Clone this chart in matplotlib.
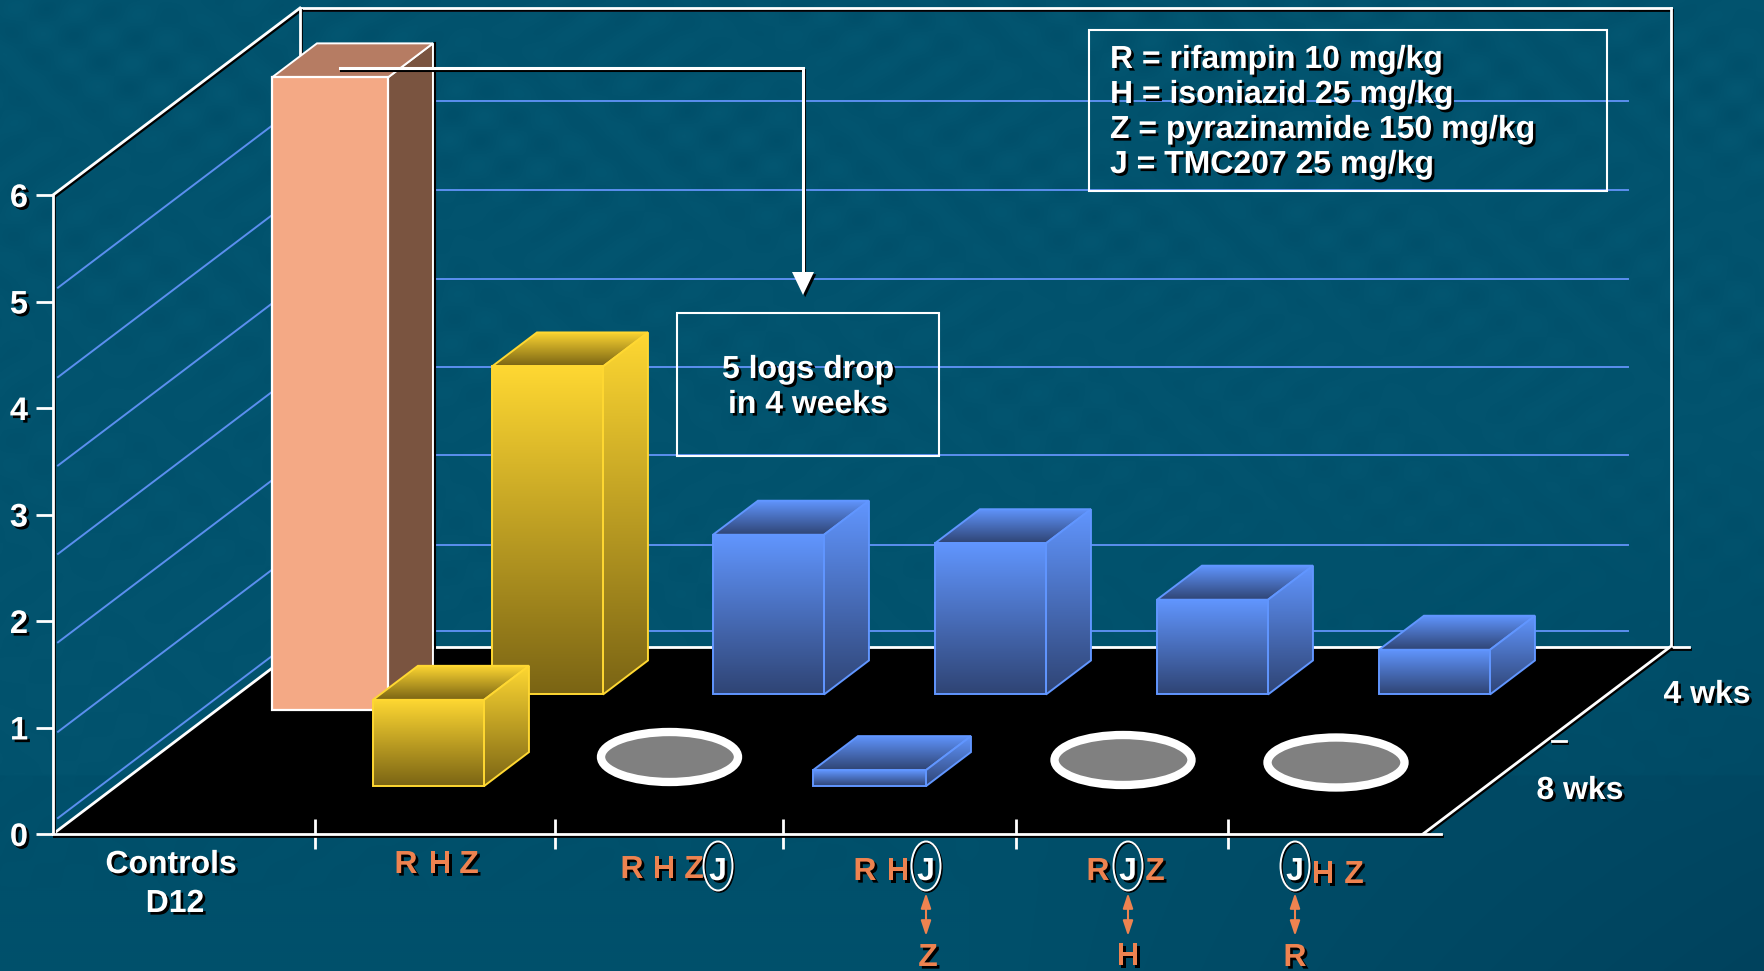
import numpy as np
import matplotlib
matplotlib.use("Agg")
import matplotlib.pyplot as plt
import matplotlib.patheffects as pe
from matplotlib.patches import Polygon, Ellipse, Rectangle, FancyArrowPatch
from matplotlib.transforms import Affine2D

plt.rcParams["font.family"] = ["Liberation Sans", "DejaVu Sans"]
plt.rcParams["font.weight"] = "bold"

# log10 CFU per regimen, read at 4 and 8 weeks (None = no bar, 0 = culture negative)
categories = ["Controls D12", "RHZ", "RHZJ", "RHJ", "RJZ", "JHZ"]
values_4wks = [5.94, 3.08, 1.50, 1.42, 0.89, 0.42]
values_8wks = [None, 0.81, 0, 0.15, 0, 0]
grid_values = [0.15, 0.96, 1.80, 2.63, 3.46, 4.29, 5.13]
y_ticks = [0, 1, 2, 3, 4, 5, 6]

legend_lines = ["R = rifampin 10 mg/kg", "H = isoniazid 25 mg/kg",
                "Z = pyrazinamide 150 mg/kg", "J = TMC207 25 mg/kg"]
note_lines = ["5 logs drop", "in 4 weeks"]
row_labels = ["4 wks", "8 wks"]

# letters under each group: (letter, x centre), the circled J is handled apart
group_letters = [
    ([("R", 406), ("H", 440), ("Z", 469)], 873),
    ([("R", 632), ("H", 664), ("Z", 694)], 878),
    ([("R", 865), ("H", 898)], 880),
    ([("R", 1098), ("Z", 1155)], 880),
    ([("H", 1323), ("Z", 1354)], 883),
]
circled_j = [(718, 866), (926, 866), (1128, 866), (1295, 866)]
removed_drug = [("Z", 928, 966), ("H", 1128, 965), ("R", 1295, 966)]

# layout, in pixels
W, H = 1764, 971
UNIT = 106.5
Y0 = 834
FLOOR_DX, FLOOR_DY = 247, 187 / UNIT
BAR_W = 111
BAR_DEPTH = 0.182
BACK_X = [272, 492, 713, 935, 1157, 1379]
BACK_DEPTH = [0.663, 0.746, 0.746, 0.746, 0.746, 0.746]
FRONT_X = [None, 373, None, 813, None, None]
FRONT_DEPTH = 0.256
OVAL_CENTRE = [None, None, (669.5, 757), None, (1123, 760), (1336, 762.5)]
GROUP_EDGES = [315, 555, 783, 1016, 1228]

BG = (0, 80, 107)
WHITE = "white"
GRID = "#5B8FEF"
ORANGE = "#EE8350"
YELLOW = ("#FFD832", "#7A6414")
BLUE = ("#6196FF", "#2F4474")

LINE_SHADOW = [pe.SimpleLineShadow(offset=(1, -1.3), shadow_color="black", alpha=1), pe.Normal()]
TEXT_SHADOW = [pe.withSimplePatchShadow(offset=(1.9, -1.9), shadow_rgbFace="black", alpha=1)]


def project(x, value, depth=0.0):
    # oblique projection: going back in depth moves right and up
    return x + depth * FLOOR_DX, value + depth * FLOOR_DY


def background(ax):
    xx, yy = np.meshgrid(np.linspace(0, 1, 882), np.linspace(0, 1, 486))
    mottle = (np.sin(xx * 190) * np.sin(yy * 120)
              + np.sin((xx + yy) * 147) * 0.6
              + np.sin((xx * 2 - yy) * 91) * 0.5)
    mottle = mottle * np.clip(1.1 - yy * 1.2, 0, 1)
    dark = np.clip((xx - 0.55) * 2.2, 0, 1) * np.clip((yy - 0.45) * 1.8, 0, 1)
    img = np.zeros(xx.shape + (3,))
    for i, amp in enumerate((0.4, 1.0, 1.0)):
        img[..., i] = BG[i] + mottle * 1.8 * amp - dark * 14 * amp
    img = np.clip(img + np.array([2, 3, 3]) * (yy < 0.8)[..., None], 0, 255) / 255
    ylim = ax.get_ylim()
    ax.imshow(img, extent=[0, W, ylim[0], ylim[1]], origin="upper", aspect="auto",
              interpolation="bilinear", zorder=0)


def gradient_face(ax, verts, top, bottom, zorder, edge=None):
    verts = np.array(verts)
    rgb_top = np.array(matplotlib.colors.to_rgb(top))
    rgb_bot = np.array(matplotlib.colors.to_rgb(bottom))
    t = np.linspace(0, 1, 256)[:, None, None]
    img = rgb_top[None, None, :] * (1 - t) + rgb_bot[None, None, :] * t
    extent = [verts[:, 0].min(), verts[:, 0].max(), verts[:, 1].min(), verts[:, 1].max()]
    im = ax.imshow(img, extent=extent, origin="upper", aspect="auto", zorder=zorder)
    im.set_clip_path(Polygon(verts, closed=True, transform=ax.transData))
    ax.add_patch(Polygon(verts, closed=True, fill=False, edgecolor=edge or top, linewidth=1.4, zorder=zorder + 0.01))


def bar_faces(x, width, value, depth):
    # x is where the front face starts on the page, whatever the row depth is
    x = x - depth * FLOOR_DX
    front = [project(x, value, depth), project(x + width, value, depth),
             project(x + width, 0, depth), project(x, 0, depth)]
    side = [project(x + width, value, depth), project(x + width, value, depth + BAR_DEPTH),
            project(x + width, 0, depth + BAR_DEPTH), project(x + width, 0, depth)]
    top = [project(x, value, depth), project(x, value, depth + BAR_DEPTH),
           project(x + width, value, depth + BAR_DEPTH), project(x + width, value, depth)]
    return front, side, top


def gradient_bar(ax, x, width, value, depth, colors, zorder):
    front, side, top = bar_faces(x, width, value, depth)
    gradient_face(ax, top, colors[0], colors[1], zorder)
    gradient_face(ax, side, colors[0], colors[1], zorder + 0.1, edge=colors[0])
    gradient_face(ax, front, colors[0], colors[1], zorder + 0.2, edge=colors[0])


def control_bar(ax, x, width, value, depth, zorder):
    front, side, top = bar_faces(x, width, value, depth)
    # thin black line along the right side of the bar
    ax.plot([p[0] + 2 for p in side[1:3]], [p[1] for p in side[1:3]], color="black", lw=1.5, zorder=zorder)
    ax.add_patch(Polygon(side, closed=True, facecolor="#7A5440", edgecolor=WHITE, lw=1.4, zorder=zorder))
    ax.add_patch(Polygon(top, closed=True, facecolor="#B67C63", edgecolor=WHITE, lw=1.4, zorder=zorder))
    ax.add_patch(Polygon(front, closed=True, facecolor="#F4A985", edgecolor=WHITE, lw=1.6, zorder=zorder + 0.1))


def draw_walls(ax):
    for v in grid_values:
        xs, ys = zip(project(58, v), project(58, v, 1))
        ax.plot(xs, ys, color=GRID, lw=1.4, zorder=1)
        xs, ys = zip(project(58, v, 1), project(1381, v, 1))
        ax.plot(xs, ys, color=GRID, lw=1.4, zorder=1)
    # last line sits right under the top edge of the back wall
    xs, ys = zip(project(58, 5.97, 1), project(1381, 5.97, 1))
    ax.plot(xs, ys, color=GRID, lw=1.4, zorder=1)

    ax.add_patch(Polygon([project(53, 0), project(1423, 0), project(1423, 0, 1), project(53, 0, 1)],
                         closed=True, facecolor="black", edgecolor="none", zorder=1.2))

    for a, b in [(project(53, 6), project(53, 6, 1)),
                 (project(53, 6, 1), project(1424, 6, 1)),
                 (project(53, 6, 1), project(53, 0, 1)),
                 (project(1424, 6, 1), project(1424, 0, 1)),
                 (project(53, 0, 1), project(1442, 0, 1)),
                 (project(53, 0), project(53, 0, 1)),
                 (project(1423, 0), project(1423, 0, 1)),
                 (project(1429, 0, 0.497), project(1443, 0, 0.497))]:
        line, = ax.plot([a[0], b[0]], [a[1], b[1]], color=WHITE, lw=2, zorder=1.5, solid_capstyle="projecting")
        line.set_path_effects(LINE_SHADOW)


def draw_axes(ax):
    for name in ("top", "right"):
        ax.spines[name].set_visible(False)
    left, bottom = ax.spines["left"], ax.spines["bottom"]
    left.set_position(("data", 53))
    left.set_bounds(0, 6)
    bottom.set_position(("data", 0))
    bottom.set_bounds(53, 1441)
    for spine in (left, bottom):
        spine.set_color(WHITE)
        spine.set_linewidth(2)
        spine.set_path_effects(LINE_SHADOW)
    ax.set_yticks(y_ticks)
    ax.set_xticks(GROUP_EDGES, labels=[""] * len(GROUP_EDGES))
    ax.tick_params(axis="y", direction="out", length=12, width=2, color=WHITE, pad=6,
                   labelcolor=WHITE, labelsize=23.5)
    ax.tick_params(axis="x", direction="inout", length=21, width=2, color=WHITE)
    for label in ax.get_yticklabels():
        label.set_fontweight("bold")
        label.set_path_effects(TEXT_SHADOW)


def draw_bars(ax):
    control_bar(ax, BACK_X[0], 116, values_4wks[0], BACK_DEPTH[0], 3)
    for i in range(1, len(categories)):
        colors = YELLOW if i == 1 else BLUE
        gradient_bar(ax, BACK_X[i], BAR_W, values_4wks[i], BACK_DEPTH[i], colors, 3 + i * 0.5)

    for i, v in enumerate(values_8wks):
        if v is None:
            continue
        if v > 0:
            colors = YELLOW if i == 1 else BLUE
            gradient_bar(ax, FRONT_X[i], BAR_W + (2 if i == 3 else 0), v, FRONT_DEPTH, colors, 7)
        else:
            # culture negative groups get a ring on the floor
            ax.add_patch(Ellipse(OVAL_CENTRE[i], 137, 50, facecolor="#808080", edgecolor=WHITE,
                                 linewidth=6, transform=PX, zorder=7))


def put_text(ax, x, y, s, color=WHITE, size=23, ha="center"):
    t = ax.text(x, y, s, transform=PX, color=color, fontsize=size, fontweight="bold",
                ha=ha, va="baseline", zorder=10)
    t.set_path_effects(TEXT_SHADOW)
    return t


def draw_annotations(ax):
    # legend and note boxes
    ax.add_patch(Rectangle((1089, 30), 518, 161, fill=False, edgecolor=WHITE, lw=1.5, transform=PX, zorder=9))
    ax.add_patch(Rectangle((677, 313), 262, 143, fill=False, edgecolor=WHITE, lw=1.5, transform=PX, zorder=9))
    for line, y in zip(legend_lines, [68, 103, 138, 173]):
        put_text(ax, 1110, y, line, ha="left")
    for line, y in zip(note_lines, [378, 413]):
        put_text(ax, 808, y, line)

    # connector from the control bar down to the note
    conn, = ax.plot([340, 803, 803], [68, 68, 275], color=WHITE, lw=2.2, transform=PX, zorder=8,
                    solid_joinstyle="miter")
    conn.set_path_effects(LINE_SHADOW)
    head = Polygon([(792, 272), (814, 272), (803, 295)], closed=True, facecolor=WHITE, edgecolor="none",
                   transform=PX, zorder=8)
    head.set_path_effects([pe.withSimplePatchShadow(offset=(1.6, -1.6), shadow_rgbFace="black", alpha=1)])
    ax.add_patch(head)

    # group labels
    put_text(ax, 171, 873, "Controls")
    put_text(ax, 175, 912, "D12")
    for letters, y in group_letters:
        for s, x in letters:
            put_text(ax, x, y, s, color=ORANGE)
    for x, y in circled_j:
        put_text(ax, x, 880, "J")
        ring = Ellipse((x, y), 29, 49, fill=False, edgecolor=WHITE, linewidth=1.4, transform=PX, zorder=10)
        ring.set_path_effects([pe.SimpleLineShadow(offset=(1, -1), shadow_color="black", alpha=1), pe.Normal()])
        ax.add_patch(ring)
    for s, x, y in removed_drug:
        arrow = FancyArrowPatch((x if s != "Z" else 926, 893), (x if s != "Z" else 926, 936),
                                arrowstyle="<|-|>,head_length=9,head_width=3", color=ORANGE, lw=1.5,
                                shrinkA=0, shrinkB=0, transform=PX, zorder=10)
        ax.add_patch(arrow)
        put_text(ax, x, y, s, color=ORANGE)

    put_text(ax, 1707, 703, row_labels[0])
    put_text(ax, 1580, 799, row_labels[1])


fig = plt.figure(figsize=(W / 100, H / 100), dpi=100)
ax = fig.add_axes([0, 0, 1, 1])
ax.set_facecolor("none")
ax.set_xlim(0, W)
ax.set_ylim((Y0 - H) / UNIT, Y0 / UNIT)
ax.set_autoscale_on(False)

# pixel positions, measured from the top left of the image
PX = Affine2D().scale(1, -1).translate(0, H)

background(ax)
draw_walls(ax)
draw_axes(ax)
draw_bars(ax)
draw_annotations(ax)

fig.savefig("out.png", dpi=100)
